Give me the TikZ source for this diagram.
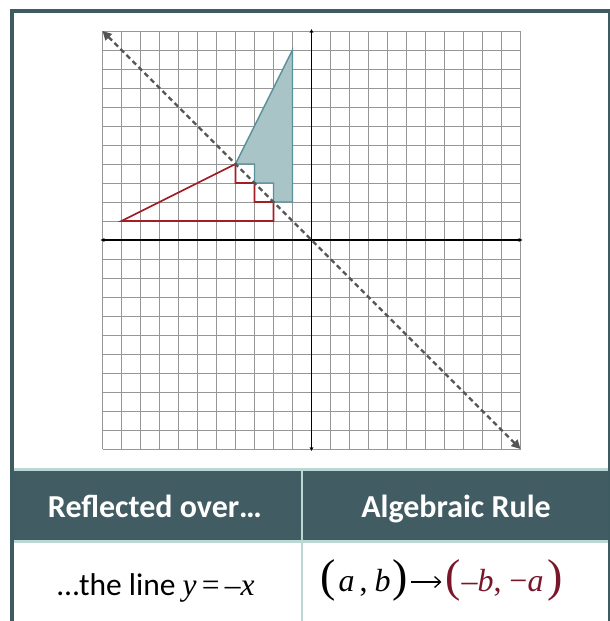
\documentclass[tikz,border=0pt]{standalone}
\usepackage{fontspec}
\setmainfont{Carlito}
\newfontfamily\tms{Liberation Serif}
\usetikzlibrary{arrows.meta}
\definecolor{framec}{RGB}{62,91,98}
\definecolor{hdrc}{RGB}{66,92,99}
\definecolor{litec}{RGB}{188,216,212}
\definecolor{tealfill}{RGB}{168,196,198}
\definecolor{tealline}{RGB}{90,145,152}
\definecolor{redline}{RGB}{163,30,36}
\definecolor{winec}{RGB}{122,22,42}
\definecolor{gridc}{RGB}{150,150,150}
\definecolor{dashc}{RGB}{85,85,85}
\tikzset{
  gridline/.style={draw=gridc, line width=0.9pt},
  axisline/.style={draw=black, line width=1.3pt, {Stealth[length=4pt,width=4pt]}-{Stealth[length=4pt,width=4pt]}},
  mirror/.style={draw=dashc, line width=2.4pt, dash pattern=on 5pt off 3.5pt, {Triangle[length=9pt,width=9pt]}-{Triangle[length=9pt,width=9pt]}},
  preimg/.style={draw=tealline, fill=tealfill, line width=1.4pt, line join=miter},
  img/.style={draw=redline, line width=1.6pt, line join=miter},
  hdrtext/.style={text=white, font=\fontsize{32}{34}\selectfont\bfseries, anchor=base, inner sep=0pt},
  celltext/.style={text=black, font=\fontsize{31.5}{34}\selectfont, anchor=base, inner sep=0pt}
}
\newcommand{\bigpar}[1]{{\fontsize{46}{46}\selectfont#1}}
\newcommand{\maparrow}{\tikz[baseline={(0pt,-9pt)}, x=1pt, y=1pt]{\draw[line width=1.3pt, -{Straight Barb[length=6pt,width=11pt,line width=1.3pt]}] (0,0) -- (30,0);}}
\begin{document}
\begin{tikzpicture}[x=1pt,y=-1pt]
\useasboundingbox (0,0) rectangle (610,621);
\fill[white] (0,0) rectangle (610,621);
% outer frame
\fill[framec] (10,9) rectangle (610,13);
\fill[framec] (10,9) rectangle (14,621);
\fill[framec] (608,9) rectangle (610,621);
% table
\fill[litec] (14,468) rectangle (608,543);
\fill[hdrc] (14,471) rectangle (608,540);
\fill[litec] (301,468) rectangle (303,621);
% coordinate plane
\begin{scope}[shift={(311.5,240)}, x=19pt, y=19pt]
  \foreach \i in {-11,...,11} {
    \draw[gridline] (\i,-11) -- (\i,11);
    \draw[gridline] (-11,\i) -- (11,\i);
  }
  \draw[preimg] (-4,4) -- (-3,4) -- (-3,3) -- (-2,3) -- (-2,2) -- (-1,2) -- (-1,10) -- cycle;
  \draw[img] (-4,4) -- (-4,3) -- (-3,3) -- (-3,2) -- (-2,2) -- (-2,1) -- (-10,1) -- cycle;
  \coordinate (xl) at (-11.1,0);
  \coordinate (xr) at (11.1,0);
  \coordinate (yb) at (0,-11.1);
  \coordinate (yt) at (0,11.1);
  \draw[axisline] (xl) -- (xr);
  \draw[axisline] (yb) -- (yt);
  \coordinate (ml) at (-11,11);
  \coordinate (mr) at (11,-11);
  \draw[mirror] (ml) -- (mr);
\end{scope}
% texts
\node[hdrtext] (h1) at (155,517) {Reflected over…};
\node[hdrtext] (h2) at (456,517) {Algebraic Rule};
\node[celltext] (c1) at (156,595) {…the line {\tms\itshape y}\,{\tms =}\,{\tms –\itshape x}};
\node[celltext, anchor=base west, font=\fontsize{32}{34}\selectfont\tms] (c2) at (320,591)
  {\bigpar{(}\kern3pt{\itshape a}\kern5pt,\kern7pt{\itshape b}\kern2pt\bigpar{)}\kern3pt\maparrow\kern3pt\textcolor{winec}{\bigpar{(}\kern1pt–{\itshape b},\kern8pt−{\itshape a}\kern4pt\bigpar{)}}};
\end{tikzpicture}
\end{document}
